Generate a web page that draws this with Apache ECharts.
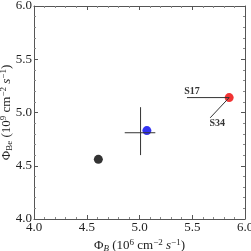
<!DOCTYPE html>
<html><head><meta charset="utf-8">
<script src="https://cdn.jsdelivr.net/npm/echarts@6/dist/echarts.min.js"></script>
<style>html,body{margin:0;padding:0;background:#fff}#c{width:251px;height:251px}</style>
</head><body><div id="c"></div>
<script>
const xTicks = [4.0, 4.5, 5.0, 5.5, 6.0];
const yTicks = [4.0, 4.5, 5.0, 5.5, 6.0];
const blackPoint = [4.61, 4.56];
const bluePoint = [5.07, 4.83];
const blueErrX = [[4.86, 4.81], [5.15, 4.81]];
const blueErrY = [[5.01, 4.60], [5.01, 5.05]];
const redPoint = [5.85, 5.14];
const s17End = [5.45, 5.14];
const s34End = [5.67, 4.95];
const lineNames = ['S17', 'S34'];

const font = 'Liberation Serif';
const axisCol = '#555';
function axisBase(pos, show) {
  return {
    type: 'value', min: 4, max: 6, interval: 0.5, position: pos,
    axisLine: {show: true, lineStyle: {color: axisCol, width: 1}},
    axisTick: {show: true, inside: true, length: 4, lineStyle: {color: axisCol}},
    minorTick: {show: true, splitNumber: 5, length: 2, lineStyle: {color: '#888'}},
    splitLine: {show: false},
    axisLabel: {show: show, fontFamily: font, fontSize: 13, color: '#222',
      formatter: v => v.toFixed(1), margin: 2}
  };
}
const chart = echarts.init(document.getElementById('c'), null, {renderer: 'canvas'});
const rich = {
  n: {fontFamily: font, fontSize: 13, color: '#222'},
  s: {fontFamily: font, fontSize: 9, color: '#222', verticalAlign: 'bottom', padding: [6,0,0,0]},
  si: {fontFamily: font, fontSize: 9, fontStyle: 'italic', color: '#222', verticalAlign: 'bottom', padding: [6,0,0,0]},
  p: {fontFamily: font, fontSize: 9, color: '#222', verticalAlign: 'top', padding: [0,0,6,0]},
  i: {fontFamily: font, fontSize: 13, fontStyle: 'italic', color: '#222'}
};
const xb = axisBase('bottom', true);
xb.name = '{n|Φ}{si|B}{n| (10}{p|6}{n| cm}{p|−2}{i| s}{p|−1}{n|)}';
xb.nameLocation = 'middle'; xb.nameGap = 19; xb.nameMoveOverlap = false;
xb.nameTextStyle = {rich: rich};
const yb = axisBase('left', true);
yb.name = '{n|Φ}{s|Be}{n| (10}{p|9}{n| cm}{p|−2}{i| s}{p|−1}{n|)}';
yb.nameLocation = 'middle'; yb.nameGap = 20; yb.nameMoveOverlap = false;
yb.nameTextStyle = {rich: rich};
const xt = axisBase('top', false);
const yr = axisBase('right', false);

const lbl = {fontFamily: font, fontSize: 10, fontWeight: 'bold', color: '#000'};
chart.setOption({
  animation: false,
  grid: {left: 34, right: 6, top: 6, bottom: 32, outerBoundsMode: 'none', containLabel: false},
  xAxis: [xb, xt],
  yAxis: [yb, yr],
  series: [
    {type: 'line', data: blueErrX, symbol: 'none', lineStyle: {color: '#333', width: 1}},
    {type: 'line', data: blueErrY, symbol: 'none', lineStyle: {color: '#333', width: 1}},
    {type: 'line', data: [redPoint, s17End], lineStyle: {color: '#333', width: 1}, symbol: 'none'},
    {type: 'line', data: [redPoint, s34End], lineStyle: {color: '#333', width: 1}, symbol: 'none'},
    {type: 'scatter', data: [s17End], symbolSize: 0,
      label: Object.assign({show: true, formatter: lineNames[0], position: 'top', distance: 1, offset: [5, 0]}, lbl)},
    {type: 'scatter', data: [s34End], symbolSize: 0,
      label: Object.assign({show: true, formatter: lineNames[1], position: 'bottom', distance: 1, offset: [7, 0]}, lbl)},
    {type: 'scatter', data: [blackPoint], symbolSize: 9, itemStyle: {color: '#000'}},
    {type: 'scatter', data: [bluePoint], symbolSize: 9, itemStyle: {color: '#0000ee'}},
    {type: 'scatter', data: [redPoint], symbolSize: 9, itemStyle: {color: '#ee0000'}}
  ]
});
</script></body></html>
